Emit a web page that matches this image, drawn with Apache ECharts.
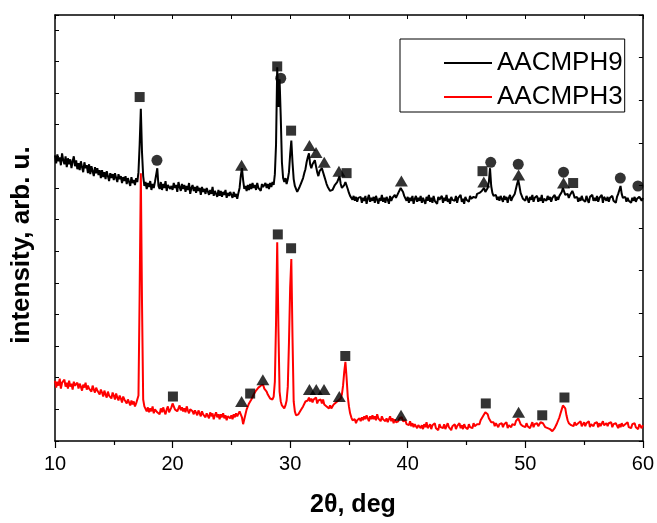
<!DOCTYPE html>
<html>
<head>
<meta charset="utf-8">
<script src="https://cdn.jsdelivr.net/npm/echarts@6/dist/echarts.min.js"></script>
<style>html,body{margin:0;padding:0;background:#fff}#c{width:657px;height:523px}</style>
</head>
<body>
<div id="c"></div>
<script>
// 2theta grid: 10.0 .. 60.0 step 0.1 (501 points)
const thetaStart = 10, thetaStep = 0.1;
// AACMPH9 intensity (arb. u.)
const aacmph9 = [
289,281,290,283,287,279,291,284,280,288,
277,286,280,285,276,283,288,278,284,275,
281,274,283,277,272,282,276,279,271,280,
270,278,273,268,277,271,276,269,274,266,
274,267,272,265,273,268,263,271,266,270,
264,271,266,262,270,265,268,261,267,263,
268,260,266,262,258,267,261,264,259,266,
262,272,300,336,292,268,258,262,255,261,
257,263,254,260,256,262,262,276,258,255,
262,254,260,256,263,253,259,261,255,258,
254,261,256,259,252,262,257,253,260,255,
259,252,258,254,261,250,256,259,253,257,
251,258,253,256,249,257,252,255,250,256,
255,249,254,250,257,248,253,251,247,254,
248,253,247,252,249,254,246,251,248,252,
249,246,252,247,250,245,251,256,268,276,
264,255,258,253,259,254,260,255,261,256,
259,254,261,256,258,253,260,257,255,261,
256,260,255,261,257,262,259,270,300,378,
338,366,328,282,266,262,266,260,265,272,
290,304,282,265,258,255,252,254,257,260,
263,266,271,275,282,287,291,280,276,280,
282,284,283,272,268,273,271,276,276,268,
264,260,257,255,253,252,254,256,259,261,
262,265,268,260,256,258,259,262,262,255,
251,248,246,244,248,243,247,242,246,244,
247,241,246,243,248,240,245,249,242,246,
243,247,241,248,244,240,246,243,249,242,
246,241,247,244,240,248,243,246,245,249,
246,248,251,253,256,257,252,248,246,243,
247,241,246,243,248,240,245,248,242,246,
243,248,241,246,244,240,247,243,249,242,
246,241,248,243,245,240,247,244,242,248,
241,246,243,249,242,245,240,247,244,246,
243,248,241,246,244,249,242,245,240,247,
244,246,242,248,245,243,247,249,246,250,
248,251,250,253,255,256,252,254,256,262,
276,258,251,248,246,249,244,247,243,248,
245,242,248,244,247,241,246,249,243,246,
247,250,255,260,264,258,251,248,245,247,
243,248,245,241,247,244,249,242,246,244,
248,242,246,243,249,241,245,247,243,248,
244,247,242,246,245,249,243,247,244,248,
249,252,256,254,249,247,250,246,249,251,
253,250,246,244,247,242,246,243,248,244,
246,242,248,244,241,247,245,249,243,246,
243,248,242,246,244,249,241,247,245,243,
247,242,246,244,248,243,245,241,247,250,
254,258,250,246,244,247,242,246,243,245,
241,246,243,247,242,245,244,247,249,243,
246];
// AACMPH3 intensity (arb. u.)
const aacmph3 = [
61,54,60,56,63,53,59,57,62,55,
59,53,61,55,58,52,60,56,54,59,
53,58,55,51,57,54,59,52,56,53,
55,50,56,52,49,54,51,53,47,52,
49,45,51,47,44,50,46,48,43,49,
46,42,48,44,41,46,43,39,45,42,
44,38,42,39,36,41,37,40,35,38,
37,46,150,271,140,42,35,33,30,34,
29,33,30,35,28,32,34,29,31,27,
33,29,34,30,27,32,35,29,31,34,
38,35,32,34,30,33,36,31,34,30,
33,29,35,31,28,32,34,30,27,31,
30,26,31,28,25,30,27,29,24,28,
27,23,29,25,28,22,26,29,24,27,
22,27,24,28,23,26,21,25,27,23,
26,22,27,24,28,25,27,30,29,24,
17,22,27,32,35,38,40,42,44,47,
48,51,50,54,53,56,55,57,53,54,
50,47,45,43,41,42,45,60,120,201,
115,50,40,36,34,33,36,41,55,100,
155,184,105,40,30,26,24,27,29,31,
33,35,37,40,42,41,44,40,43,39,
42,40,44,38,41,39,42,38,42,37,
38,35,37,33,36,33,35,37,36,39,
38,41,40,43,47,56,70,80,64,45,
35,28,24,21,19,22,18,21,19,23,
20,24,21,25,22,26,23,20,25,22,
26,22,25,21,27,23,24,20,25,22,
24,20,23,19,22,25,20,23,18,22,
19,21,20,23,22,24,20,18,21,17,
19,16,20,15,18,14,17,19,13,16,
18,13,16,12,17,14,19,13,15,17,
12,16,14,18,13,15,11,17,14,16,
13,17,12,15,18,14,16,11,15,13,
17,12,15,14,18,13,16,12,17,14,
15,12,17,14,16,13,18,15,14,17,
18,17,21,22,25,27,29,28,27,23,
21,19,17,19,15,18,16,14,17,15,
18,14,17,15,19,13,16,18,14,17,
18,16,20,21,23,20,17,19,15,17,
14,18,15,17,13,16,19,14,17,15,
18,15,17,19,20,18,16,14,15,13,
14,12,11,10,12,13,15,18,21,24,
28,32,36,38,33,26,21,18,19,16,
18,15,19,16,14,18,17,20,15,17,
19,15,18,16,20,14,17,19,15,18,
16,19,14,18,15,17,20,16,14,18,
15,18,16,19,14,17,15,18,16,13,
17,14,18,15,13,17,16,19,14,16,
13,17,15,18,14,16,12,17,15,13,
16];
// phase markers
const squareX = [17.2, 28.9, 30.08, 34.8, 46.36, 54.07, 20.03, 26.6, 28.95, 30.08, 34.69, 46.64, 51.44, 53.33];
const squareY = [348, 379, 314, 271, 273, 261, 45, 48, 209, 195, 86, 38, 26, 44];
const circleX = [18.67, 29.2, 47.06, 49.4, 53.25, 58.08, 59.58];
const circleY = [284, 367, 282, 280, 272, 266, 258];
const triangleX = [25.87, 31.64, 32.2, 32.9, 34.15, 39.46, 46.47, 49.43, 53.25, 25.87, 27.68, 31.64, 32.22, 32.88, 34.18, 39.43, 49.43];
const triangleY = [279, 299, 292, 282, 273, 263, 262, 269, 261, 40, 62, 52, 52, 52, 45, 26, 29];
const xTicks = [10, 20, 30, 40, 50, 60];

function pairs(xs, ys) { return xs.map((x, i) => [x, ys[i]]); }
function series(vals) { return vals.map((v, i) => [+(thetaStart + i * thetaStep).toFixed(1), v]); }

const FONT = 'Arial, "Liberation Sans", sans-serif';
const chart = echarts.init(document.getElementById('c'), null, {renderer: 'canvas'});
chart.setOption({
  animation: false,
  backgroundColor: '#fff',
  grid: {left: 55, right: 12, top: 15, bottom: 77},
  legend: {
    data: ['AACMPH9', 'AACMPH3'],
    orient: 'vertical',
    left: 400, top: 39,
    itemWidth: 48, itemHeight: 2, itemGap: 8,
    icon: 'rect',
    borderColor: '#000', borderWidth: 1,
    padding: [11, 2, 2, 44],
    textStyle: {fontFamily: FONT, fontSize: 26, color: '#000', lineHeight: 26}
  },
  xAxis: [{
    type: 'value', min: xTicks[0], max: xTicks[xTicks.length - 1], interval: 10,
    position: 'bottom',
    axisLine: {show: true, onZero: false, lineStyle: {color: '#000', width: 1.5}},
    axisTick: {show: true, inside: false, length: 7, lineStyle: {color: '#000', width: 1.2}},
    minorTick: {show: true, splitNumber: 2, length: 4, lineStyle: {color: '#000', width: 1.2}},
    axisLabel: {fontFamily: FONT, fontSize: 20, color: '#000', margin: 13},
    splitLine: {show: false},
    name: '2θ, deg', nameLocation: 'middle', nameGap: 52,
    nameTextStyle: {fontFamily: FONT, fontSize: 25, fontWeight: 'bold', color: '#000', padding: [0, 0, 0, 8]}
  }, {
    type: 'value', min: 10, max: 60, interval: 5, position: 'top',
    axisLine: {show: true, onZero: false, lineStyle: {color: '#000', width: 1.5}},
    axisTick: {show: true, inside: true, length: 4, lineStyle: {color: '#000'}},
    axisLabel: {show: false}, splitLine: {show: false}
  }],
  yAxis: [{
    type: 'value', min: 0, max: 431, position: 'left',
    axisLine: {show: true, onZero: false, lineStyle: {color: '#000', width: 1.5}},
    axisTick: {show: false}, axisLabel: {show: false}, splitLine: {show: false},
    name: 'intensity, arb. u.', nameLocation: 'middle', nameGap: 20, nameRotate: 90,
    nameTextStyle: {fontFamily: FONT, fontSize: 26, fontWeight: 'bold', color: '#000', padding: [0, 34, 0, 0]}
  }, {
    type: 'value', min: -27, max: 404, interval: 32, position: 'left',
    axisLine: {show: false, onZero: false},
    axisTick: {show: true, inside: true, length: 4, lineStyle: {color: '#000'}},
    axisLabel: {show: false}, splitLine: {show: false}
  }, {
    type: 'value', min: 0, max: 10, interval: 1, position: 'right',
    axisLine: {show: true, onZero: false, lineStyle: {color: '#000', width: 1.5}},
    axisTick: {show: true, inside: true, length: 4, lineStyle: {color: '#000'}},
    axisLabel: {show: false}, splitLine: {show: false}
  }],
  series: [{
    name: 'AACMPH3', type: 'line', data: series(aacmph3), showSymbol: false, symbol: 'none',
    lineStyle: {color: '#ff0000', width: 2}, itemStyle: {color: '#ff0000'}, z: 2
  }, {
    name: 'AACMPH9', type: 'line', data: series(aacmph9), showSymbol: false, symbol: 'none',
    lineStyle: {color: '#000', width: 2}, itemStyle: {color: '#000'}, z: 3
  }, {
    name: 'sq', type: 'scatter', data: pairs(squareX, squareY), symbol: 'rect', symbolSize: 10,
    itemStyle: {color: '#000'}, z: 5
  }, {
    name: 'ci', type: 'scatter', data: pairs(circleX, circleY), symbol: 'circle', symbolSize: 11,
    itemStyle: {color: '#000'}, z: 5
  }, {
    name: 'tr', type: 'scatter', data: pairs(triangleX, triangleY), symbol: 'triangle', symbolSize: [13, 11],
    itemStyle: {color: '#000'}, z: 5
  }]
});
</script>
</body>
</html>
